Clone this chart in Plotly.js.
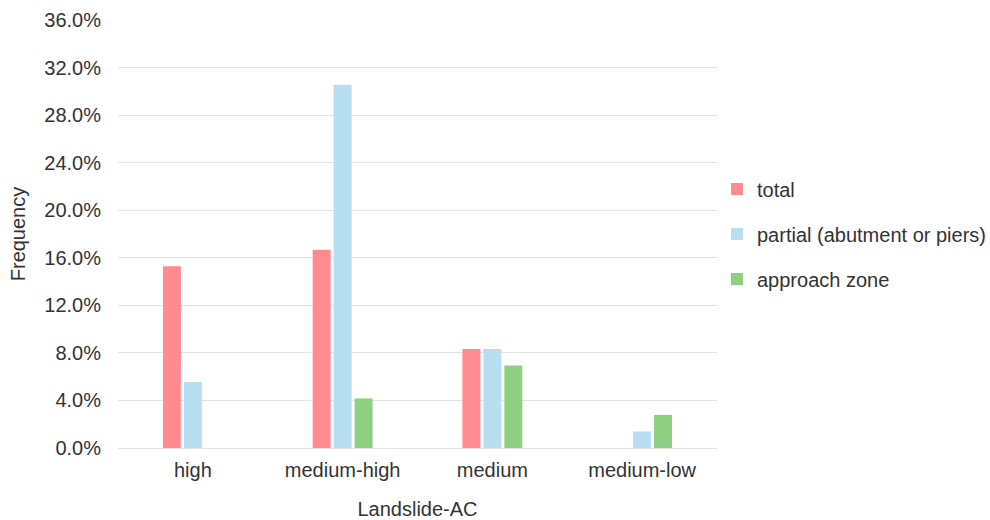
<!DOCTYPE html>
<html>
<head>
<meta charset="utf-8">
<script src="https://cdn.plot.ly/plotly-3.0.1.min.js"></script>
<style>
  html, body { margin: 0; padding: 0; background: #ffffff; }
  #chart { width: 990px; height: 520px; }
</style>
</head>
<body>
<div id="chart"></div>
<script>
// Landslide susceptibility classes (AC) on the x axis
const categories = ['high', 'medium-high', 'medium', 'medium-low'];

// Frequency of damage type per class (fractions)
const totalValues    = [0.1528, 0.1667, 0.0833, null];
const partialValues  = [0.0556, 0.3056, 0.0833, 0.0139];
const approachValues = [null,   0.0417, 0.0694, 0.0278];

const seriesNames  = ['total', 'partial (abutment or piers)', 'approach zone'];
const seriesColors = ['#FF8A8F', '#B8DEF1', '#8FCF82'];

const yTickVals = [0, 0.04, 0.08, 0.12, 0.16, 0.20, 0.24, 0.28, 0.32, 0.36];

const baseFont = 'Liberation Sans, Arial, Helvetica, sans-serif';
const textColor = '#333333';
const fontSize = 20;

const seriesValues = [totalValues, partialValues, approachValues];
const traces = seriesValues.map((vals, i) => ({
  type: 'bar',
  name: seriesNames[i],
  x: categories,
  y: vals,
  legendgroup: 'g' + i,
  marker: { color: seriesColors[i], line: { width: 0 } },
  hoverinfo: 'x+y+name'
}));

const layout = {
  width: 990,
  height: 520,
  margin: { l: 118, r: 273, t: 20, b: 72, autoexpand: false },
  paper_bgcolor: '#ffffff',
  plot_bgcolor: '#ffffff',
  font: { family: baseFont, size: fontSize, color: textColor },
  barmode: 'group',
  bargap: 0.58,
  bargroupgap: 0.143,
  xaxis: {
    type: 'category',
    showgrid: false,
    zeroline: false,
    showline: false,
    ticks: '',
    ticklabelstandoff: 8,
    tickfont: { family: baseFont, size: fontSize, color: textColor },
    title: { text: 'Landslide-AC', font: { family: baseFont, size: fontSize, color: textColor }, standoff: 22 }
  },
  yaxis: {
    range: [0, 0.36],
    tickvals: yTickVals,
    tickformat: '.1%',
    showgrid: true,
    gridcolor: '#E3E3E3',
    gridwidth: 1,
    zeroline: true,
    zerolinecolor: '#E3E3E3',
    zerolinewidth: 1,
    showline: false,
    ticks: '',
    ticklabelstandoff: 16,
    tickfont: { family: baseFont, size: fontSize, color: textColor },
    title: { text: 'Frequency', font: { family: baseFont, size: fontSize, color: textColor }, standoff: 13 }
  },
  legend: {
    x: 1.0,
    xanchor: 'left',
    y: 0.5,
    yanchor: 'middle',
    traceorder: 'grouped',
    tracegroupgap: 16,
    font: { family: baseFont, size: fontSize, color: textColor },
    bgcolor: 'rgba(0,0,0,0)',
    itemclick: false
  },
  showlegend: true
};

Plotly.newPlot('chart', traces, layout, { displayModeBar: false, staticPlot: true });
</script>
</body>
</html>
